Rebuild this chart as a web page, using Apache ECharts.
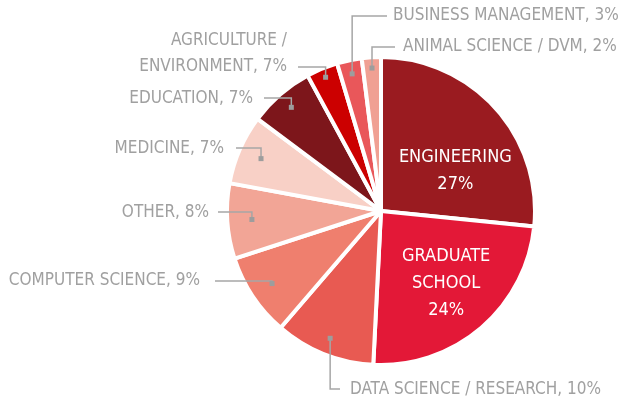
<!DOCTYPE html>
<html>
<head>
<meta charset="utf-8">
<script src="https://cdn.jsdelivr.net/npm/echarts@6/dist/echarts.min.js"></script>
<style>
html, body { margin: 0; padding: 0; background: #fff; }
#canvasContainer { width: 636px; height: 403px; }
</style>
</head>
<body>
<div id="canvasContainer"></div>
<script>
// slice order: clockwise from 12 o'clock
var categories = ['ENGINEERING', 'GRADUATE\nSCHOOL', 'DATA SCIENCE / RESEARCH', 'COMPUTER SCIENCE', 'OTHER',
    'MEDICINE', 'EDUCATION', 'AGRICULTURE /\nENVIRONMENT', 'BUSINESS MANAGEMENT', 'ANIMAL SCIENCE / DVM'];
var shares = [26.6, 24.2, 10.5, 8.7, 7.9, 7.3, 6.9, 3.3, 2.6, 2.0];
var pctLabels = ['27%', '24%', '10%', '9%', '8%', '7%', '7%', '7%', '3%', '2%'];
var colors = ['#9a1b20', '#e31837', '#e85a52', '#ef7f6e', '#f2a596', '#f8d0c6',
    '#7d161b', '#cc0000', '#e9575a', '#f0a093'];

var cx = 381, cy = 211, R = 154;
var labelFont = '"Liberation Sans Narrow", "DejaVu Sans Condensed", sans-serif';

// where the outside labels sit (index into categories)
var outer = {
    2: { depth: 0.89, lineY: 389, endX: 340, textX: 350, textY: 390, align: 'left' },
    3: { depth: 0.85, lineY: 281, endX: 215, textX: 200, textY: 281, align: 'right' },
    4: { depth: 0.84, lineY: 212, endX: 218, textX: 209, textY: 213, align: 'right' },
    5: { depth: 0.85, lineY: 148, endX: 236, textX: 224, textY: 149, align: 'right' },
    6: { depth: 0.89, lineY: 98, endX: 264, textX: 253, textY: 99, align: 'right' },
    7: { depth: 0.94, lineY: 67, endX: 298, textX: 287, textY: 54, align: 'right' },
    8: { depth: 0.91, lineY: 16, endX: 387, textX: 393, textY: 16, align: 'left' },
    9: { depth: 0.93, lineY: 47, endX: 395, textX: 403, textY: 47, align: 'left' }
};
var outerIdx = [2, 3, 4, 5, 6, 7, 8, 9];
var innerOffset = { 0: [15, 13], 1: [13, 12] };

var total = 0;
for (var k = 0; k < shares.length; k++) total += shares[k];

function midAngle(i) {
    var before = 0;
    for (var j = 0; j < i; j++) before += shares[j];
    return (before + shares[i] / 2) / total * Math.PI * 2;
}

var pieData = categories.map(function (c, i) {
    var item = { name: c, value: shares[i], itemStyle: { color: colors[i] } };
    if (innerOffset[i]) {
        item.label = { show: true, offset: innerOffset[i] };
    } else {
        item.label = { show: false };
    }
    return item;
});

var chart = echarts.init(document.getElementById('canvasContainer'));
var option = {
    animation: false,
    series: [
        {
            type: 'pie',
            center: [cx, cy],
            radius: R,
            startAngle: 90,
            clockwise: true,
            silent: true,
            itemStyle: { borderColor: '#fff', borderWidth: 4 },
            label: {
                position: 'inside',
                color: '#fff',
                fontFamily: labelFont,
                fontSize: 18,
                lineHeight: 27,
                formatter: function (p) {
                    return p.name + '\n' + pctLabels[p.dataIndex];
                }
            },
            labelLine: { show: false },
            data: pieData
        },
        {
            type: 'custom',
            coordinateSystem: 'none',
            silent: true,
            z: 5,
            data: outerIdx,
            renderItem: function (params, api) {
                var i = api.value(0);
                var L = outer[i];
                var a = midAngle(i);
                var ax = cx + R * L.depth * Math.sin(a);
                var ay = cy - R * L.depth * Math.cos(a);
                return {
                    type: 'group',
                    children: [
                        {
                            type: 'polyline',
                            shape: { points: [[ax, ay], [ax, L.lineY], [L.endX, L.lineY]] },
                            style: { stroke: '#a6a6a6', lineWidth: 1.5, fill: null }
                        },
                        {
                            type: 'rect',
                            shape: { x: ax - 2.5, y: ay - 2.5, width: 5, height: 5 },
                            style: { fill: '#9d9d9d' }
                        },
                        {
                            type: 'text',
                            style: {
                                text: categories[i] + ', ' + pctLabels[i],
                                x: L.textX,
                                y: L.textY,
                                align: L.align,
                                verticalAlign: 'middle',
                                fill: '#a0a0a0',
                                fontFamily: labelFont,
                                fontSize: 17,
                                lineHeight: 26
                            }
                        }
                    ]
                };
            }
        }
    ]
};
chart.setOption(option);
</script>
</body>
</html>
